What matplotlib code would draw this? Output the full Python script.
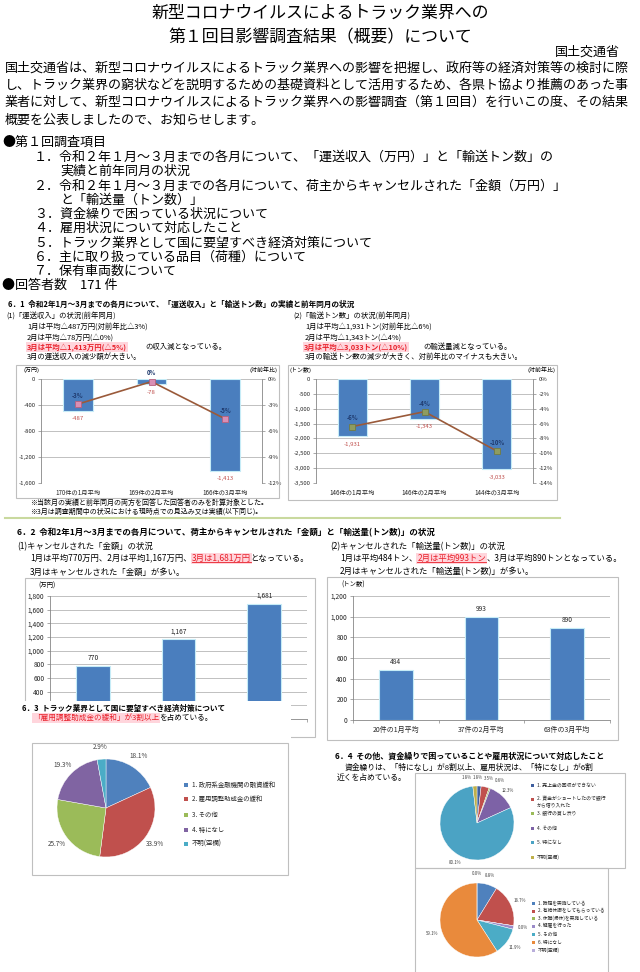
import numpy as np
import matplotlib
matplotlib.use("Agg")
import matplotlib.pyplot as plt
from matplotlib.patches import Rectangle
from matplotlib.lines import Line2D

# ---------------- data ----------------
rev_cats = ["170件の1月平均", "169件の2月平均", "166件の3月平均"]
rev_values = [-487, -78, -1413]
rev_pct = [-2.9, -0.3, -4.6]

ton_cats = ["146件の1月平均", "146件の2月平均", "144件の3月平均"]
ton_values = [-1931, -1343, -3033]
ton_pct = [-6.4, -4.4, -9.7]

cancel_amt = [770, 1167, 1681]

cancel_ton_cats = ["20件の1月平均", "37件の2月平均", "63件の3月平均"]
cancel_ton = [484, 993, 890]

measure_labels = ["1. 政府系金融機関の融資緩和", "2. 雇用調整助成金の緩和", "3. その他",
                  "4. 特になし", "不明(空欄)"]
measure_pct = [18.1, 33.9, 25.7, 19.3, 2.9]

fund_labels = ["1. 売上金の回収ができない", "2. 資金がショートしたので銀行\nから借り入れた",
               "3. 銀行の貸し渋り", "4. その他", "5. 特になし", "不明(空欄)"]
fund_pct = [1.8, 3.5, 0.6, 12.3, 80.1, 1.8]

emp_labels = ["1. 時短を実施している", "2. 有給休暇をしてもらっている", "3. 休職(帰休)を実施している",
              "4. 解雇を行った", "5. その他", "6. 特になし", "不明(空欄)"]
emp_pct = [8.8, 18.7, 0.0, 1.5, 11.9, 59.1, 0.0]
emp_shown = ["8.8%", "18.7%", "0.0%", "", "11.9%", "59.1%", "0.0%"]

title_lines = ["新型コロナウイルスによるトラック業界への", "第１回目影響調査結果（概要）について"]
body_lines = [
    "国土交通省は、新型コロナウイルスによるトラック業界への影響を把握し、政府等の経済対策等の検討に際",
    "し、トラック業界の窮状などを説明するための基礎資料として活用するため、各県ト協より推薦のあった事",
    "業者に対して、新型コロナウイルスによるトラック業界への影響調査（第１回目）を行いこの度、その結果",
    "概要を公表しましたので、お知らせします。",
]
items = [
    ("●第１回調査項目", 0),
    ("１．令和２年１月～３月までの各月について、「運送収入（万円）」と「輸送トン数」の", 1),
    ("実績と前年同月の状況", 2),
    ("２．令和２年１月～３月までの各月について、荷主からキャンセルされた「金額（万円）」", 1),
    ("と「輸送量（トン数）」", 2),
    ("３．資金繰りで困っている状況について", 1),
    ("４．雇用状況について対応したこと", 1),
    ("５．トラック業界として国に要望すべき経済対策について", 1),
    ("６．主に取り扱っている品目（荷種）について", 1),
    ("７．保有車両数について", 1),
    ("●回答者数　171 件", 0),
]

# ---------------- style ----------------
W, H = 640, 972
plt.rcParams["font.family"] = ["Noto Sans CJK JP", "DejaVu Sans"]
BLUE = "#4A7EBE"
CYAN = "#C6ECF7"
RED = "#E8202A"
PINK = "#FFD5DC"
GRID = "#A6A6A6"
BOXC = "#BFBFBF"
TXT = "#262626"

fig = plt.figure(figsize=(6.4, 9.72), dpi=100)
fig.patch.set_facecolor("white")
renderer = fig.canvas.get_renderer()


def txt(x, y, s, size, color="black", ha="left", weight="normal", va="center", **kw):
    return fig.text(x / W, 1 - y / H, s, fontsize=size, color=color, ha=ha, va=va,
                    fontweight=weight, zorder=5, **kw)


def rich(x, y, segs, size, weight="normal"):
    cx = x
    for seg in segs:
        s, style = seg
        kw = {}
        color = "black"
        if style in ("hl", "ul"):
            color = RED
            kw["bbox"] = dict(boxstyle="square,pad=0.12", fc=PINK, ec="none")
        t = txt(cx, y, s, size, color=color, weight=weight, **kw)
        bb = t.get_window_extent(renderer)
        if style == "ul":
            fig.add_artist(Line2D([bb.x0 / W, bb.x1 / W], [(bb.y0 + 0.6) / H] * 2,
                                  color=RED, lw=0.6, transform=fig.transFigure, zorder=6))
        cx += bb.width
    return cx


def box(x0, y0, x1, y1, ec=BOXC, lw=0.8, fc="none", z=1):
    fig.add_artist(Rectangle((x0 / W, 1 - y1 / H), (x1 - x0) / W, (y1 - y0) / H,
                             transform=fig.transFigure, fc=fc, ec=ec, lw=lw, zorder=z))


def px_axes(x0, y0, x1, y1):
    return fig.add_axes([x0 / W, 1 - y1 / H, (x1 - x0) / W, (y1 - y0) / H])


def style_ax(ax, fs):
    for s in ["top", "right", "bottom"]:
        ax.spines[s].set_visible(False)
    ax.spines["left"].set_color("#868686")
    ax.spines["left"].set_linewidth(0.6)
    ax.yaxis.grid(True, color=GRID, lw=0.5)
    ax.set_axisbelow(True)
    ax.tick_params(axis="y", labelsize=fs, colors="#868686", labelcolor=TXT, length=2, width=0.5, pad=2)
    ax.tick_params(axis="x", labelsize=fs, length=0, labelcolor=TXT, pad=3)


# ---------------- header ----------------
txt(320, 13, title_lines[0], 12.2, ha="center")
txt(320, 37, title_lines[1], 12.2, ha="center")
txt(620, 52, "国土交通省", 9.4, ha="right")
for i, line in enumerate(body_lines):
    txt(5, 68 + i * 17.3, line, 9.4)
item_y = [142, 157, 171, 186, 200, 214, 228, 243, 257, 271, 285]
indent = {0: 2, 1: 34, 2: 60}
for (s, lvl), y in zip(items, item_y):
    txt(indent[lvl], y, s, 9.4)

# ---------------- 6.1 ----------------
txt(8, 304, "6．1  令和2年1月～3月までの各月について、「運送収入」と「輸送トン数」の実績と前年同月の状況", 5.5, weight="bold")
fs61 = 5.3
txt(6, 317, "(1)「運送収入」の状況(前年同月)", fs61)
txt(27, 328, "1月は平均△487万円(対前年比△3%)", fs61)
txt(27, 338, "2月は平均△78万円(△0%)", fs61)
rich(27, 347, [("3月は平均△1,413万円(△5%)", "hl")], fs61, weight="bold")
txt(145, 347, "の収入減となっている。", fs61)
txt(27, 357, "3月の運送収入の減少額が大きい。", fs61)

txt(293, 317, "(2)「輸送トン数」の状況(前年同月)", fs61)
txt(305, 328, "1月は平均△1,931トン(対前年比△6%)", fs61)
txt(305, 338, "2月は平均△1,343トン(△4%)", fs61)
rich(304, 347, [("3月は平均△3,033トン(△10%)", "hl")], fs61, weight="bold")
txt(423, 347, "の輸送量減となっている。", fs61)
txt(305, 357, "3月の輸送トン数の減少が大きく、対前年比のマイナスも大きい。", fs61)


def loss_chart(rect, cats, vals, pct, ymin, ystep, pmin, pstep, mfc, mec):
    ax = px_axes(*rect)
    x = np.arange(len(vals))
    ax.bar(x, vals, width=0.4, color=BLUE, edgecolor=CYAN, lw=0.8, zorder=3)
    ax.set_xlim(-0.5, len(vals) - 0.5)
    ax.set_ylim(ymin, 0)
    ticks = np.arange(0, ymin - 1, -ystep)
    ax.set_yticks(ticks)
    ax.set_yticklabels([f"{int(t):,}" for t in ticks])
    ax.set_xticks(x)
    ax.set_xticklabels(cats)
    style_ax(ax, 4.3)
    ax.tick_params(axis="x", labelsize=4.5, pad=4)
    for xi, v in zip(x, vals):
        ax.annotate(f"{v:,}", (xi, v), xytext=(0, -5.8), textcoords="offset points",
                    ha="center", va="center", fontsize=4.3, color="#C0504D")
    ax2 = ax.twinx()
    ax2.set_ylim(pmin, 0)
    pt = np.arange(0, pmin - 0.1, -pstep)
    ax2.set_yticks(pt)
    ax2.set_yticklabels([f"{int(t)}%" for t in pt])
    for s in ["top", "left", "bottom"]:
        ax2.spines[s].set_visible(False)
    ax2.spines["right"].set_color("#868686")
    ax2.spines["right"].set_linewidth(0.6)
    ax2.tick_params(axis="y", labelsize=4.3, colors="#868686", labelcolor=TXT, length=2, width=0.5, pad=2)
    ax2.plot(x, pct, color="#9A5A3A", lw=1.2, marker="s", ms=4, mfc=mfc, mec=mec, mew=0.6, zorder=5)
    for xi, p in zip(x, pct):
        ax2.annotate(f"{round(p)}%", (xi, p), xytext=(0, 6.2), textcoords="offset points",
                     ha="center", va="center", fontsize=4.3, color="#1F3A6E", fontweight="bold")
    return ax


box(16, 365, 279, 498)
loss_chart((41, 379, 262, 483), rev_cats, rev_values, rev_pct, -1600, 400, -12, 3,
           "#D98FB4", "#B8607E")
txt(23, 370, "(万円)", 4.3)
txt(278, 370, "(対前年比)", 4.3, ha="right")

box(288, 365, 557, 500)
loss_chart((316, 379, 533, 483), ton_cats, ton_values, ton_pct, -3500, 500, -14, 2,
           "#8E9C60", "#6F7B45")
txt(290, 370, "(トン数)", 4.3)
txt(555, 370, "(対前年比)", 4.3, ha="right")

txt(30, 503, "※当該月の実績と前年同月の両方を回答した回答者のみを計算対象とした。", 5.0)
txt(30, 512, "※3月は調査期間中の状況における現時点での見込み又は実績(以下同じ)。", 5.0)
fig.add_artist(Line2D([5 / W, 560 / W], [1 - 518 / H] * 2, color="#C9D99E", lw=1.5,
                      transform=fig.transFigure))

# ---------------- 6.2 ----------------
txt(17, 533, "6．2  令和2年1月～3月までの各月について、荷主からキャンセルされた「金額」と「輸送量(トン数)」の状況", 6.1, weight="bold")
fs62 = 6.0
txt(17, 547, "(1)キャンセルされた「金額」の状況", fs62)
rich(30, 558, [("1月は平均770万円、2月は平均1,167万円、", None), ("3月は1,681万円", "ul"),
               ("となっている。", None)], fs62)
txt(30, 572, "3月はキャンセルされた「金額」が多い。", fs62)

txt(330, 547, "(2)キャンセルされた「輸送量(トン数)」の状況", fs62)
rich(340, 558, [("1月は平均484トン、", None), ("2月は平均993トン", "ul"),
                ("、3月は平均890トンとなっている。", None)], fs62)
txt(340, 572, "2月はキャンセルされた「輸送量(トン数)」が多い。", fs62)


def cancel_chart(rect, cats, vals, ymax, ystep, min_label=0):
    ax = px_axes(*rect)
    x = np.arange(len(vals))
    ax.bar(x, vals, width=0.39, color=BLUE, edgecolor=CYAN, lw=0.8, zorder=3)
    ax.set_xlim(-0.5, len(vals) - 0.5)
    ax.set_ylim(0, ymax)
    ticks = np.arange(0, ymax + 1, ystep)
    ax.set_yticks(ticks)
    ax.set_yticklabels([f"{int(t):,}" if t >= min_label else "" for t in ticks])
    ax.set_xticks(x)
    ax.set_xticklabels(cats if cats else [""] * len(vals))
    style_ax(ax, 4.8)
    ax.spines["bottom"].set_visible(True)
    ax.spines["bottom"].set_color("#868686")
    ax.spines["bottom"].set_linewidth(0.6)
    ax.set_xticks(np.arange(-0.5, len(vals)), minor=True)
    ax.tick_params(axis="x", which="minor", length=2, color="#868686", width=0.5)
    ax.tick_params(axis="x", labelsize=5.0, pad=4)
    for xi, v in zip(x, vals):
        ax.annotate(f"{v:,}", (xi, v), xytext=(0, 5.8), textcoords="offset points",
                    ha="center", va="center", fontsize=4.8, color=TXT)
    return ax


box(25, 578, 315, 737)
# lower part of this chart is hidden under the 6.3 block in the source, so no
# category labels / low tick labels are visible there
cancel_chart((50, 596, 307, 719), None, cancel_amt, 1800, 200, min_label=400)
txt(38, 586, "(万円)", 4.6)

box(327, 577, 618, 740)
cancel_chart((353, 596, 610, 720), cancel_ton_cats, cancel_ton, 1200, 200)
txt(341, 585, "(トン数)", 4.6)

# white block covering the lower part of the left chart (as in the source layout)
box(0, 701, 291, 742, ec="none", fc="white", z=2)

# ---------------- 6.3 ----------------
txt(22, 708, "6．3  トラック業界として国に要望すべき経済対策について", 5.5, weight="bold")
rich(33, 718, [("「雇用調整助成金の緩和」が3割以上", "hl"), ("を占めている。", None)], 5.5)

measure_colors = ["#4F81BD", "#C0504D", "#9BBB59", "#8064A2", "#4BACC6"]
fund_colors = ["#3F5F9E", "#C0504D", "#9BBB59", "#7D62A6", "#4BA3C4", "#BFB04A"]
emp_colors = ["#4F81BD", "#C0504D", "#9BBB59", "#9B8BC9", "#4BACC6", "#E98A3C", "#B9AEDB"]


def pie_panel(cx, cy, r, vals, colors, labels, fs, ldist):
    ax = fig.add_axes([(cx - r) / W, 1 - (cy + r) / H, 2 * r / W, 2 * r / H])
    wedges, _ = ax.pie(vals, colors=colors, startangle=90, counterclock=False, radius=1,
                       wedgeprops=dict(linewidth=0.3, edgecolor="white"))
    ax.set_xlim(-1, 1)
    ax.set_ylim(-1, 1)
    ax.axis("off")
    pos, texts, sizes = [], [], []
    for w, lab in zip(wedges, labels):
        ang = np.deg2rad((w.theta1 + w.theta2) / 2)
        p = [ldist * np.cos(ang) * r, ldist * np.sin(ang) * r]  # in pixels
        t = ax.text(0, 0, lab, fontsize=fs, ha="center", va="center", color="#404040")
        bb = t.get_window_extent(renderer)
        pos.append(p)
        texts.append(t)
        sizes.append((bb.width, bb.height))
    # simple horizontal repulsion so that neighbouring small-slice labels do not collide
    n = len(pos)
    for _ in range(200):
        moved = False
        for i in range(n):
            for j in range(i + 1, n):
                if not labels[i] or not labels[j]:
                    continue
                dx = pos[j][0] - pos[i][0]
                dy = pos[j][1] - pos[i][1]
                need_x = (sizes[i][0] + sizes[j][0]) / 2 + 1.0
                need_y = (sizes[i][1] + sizes[j][1]) / 2
                if abs(dy) < need_y and abs(dx) < need_x:
                    s = 1.0 if dx >= 0 else -1.0
                    push = (need_x - abs(dx)) / 2 + 0.05
                    pos[i][0] -= s * push
                    pos[j][0] += s * push
                    moved = True
        if not moved:
            break
    for t, p in zip(texts, pos):
        t.set_position((p[0] / r, p[1] / r))
    return ax


def legend(x, ys, labels, colors, fs, sq):
    for y, lab, c in zip(ys, labels, colors):
        fig.add_artist(Rectangle(((x - sq / 2) / W, 1 - (y + sq / 2) / H), sq / W, sq / H,
                                 transform=fig.transFigure, fc=c, ec="none", zorder=5))
        if "\n" in lab:
            txt(x + sq + 2, y - 3.5, lab, fs, color=TXT, va="top", linespacing=1.4)
        else:
            txt(x + sq + 2, y, lab, fs, color=TXT)


box(32, 743, 288, 875)
pie_panel(106, 808, 49, measure_pct, measure_colors, [f"{v:.1f}%" for v in measure_pct], 4.6, 1.25)
legend(186, [785, 799, 815, 830, 844], measure_labels, measure_colors, 4.6, 4)

# ---------------- 6.4 ----------------
txt(335, 756, "6．4  その他、資金繰りで困っていることや雇用状況について対応したこと", 5.8, weight="bold")
txt(345, 768, "資金繰りは、「特になし」が8割以上、雇用状況は、「特になし」が6割", 5.6)
txt(337, 778, "近くを占めている。", 5.6)

box(415, 773, 625, 868)
pie_panel(477, 823, 37, fund_pct, fund_colors, [f"{v:.1f}%" for v in fund_pct], 3.1, 1.22)
legend(532, [785, 799, 813, 828, 842, 857], fund_labels, fund_colors, 3.5, 3)

box(415, 868, 608, 990)
pie_panel(477, 920, 37, emp_pct, emp_colors, emp_shown, 3.1, 1.26)
legend(533, [903, 911, 918, 926, 934, 942, 950], emp_labels, emp_colors, 3.4, 3)

fig.savefig("out.png", dpi=100, facecolor="white")
